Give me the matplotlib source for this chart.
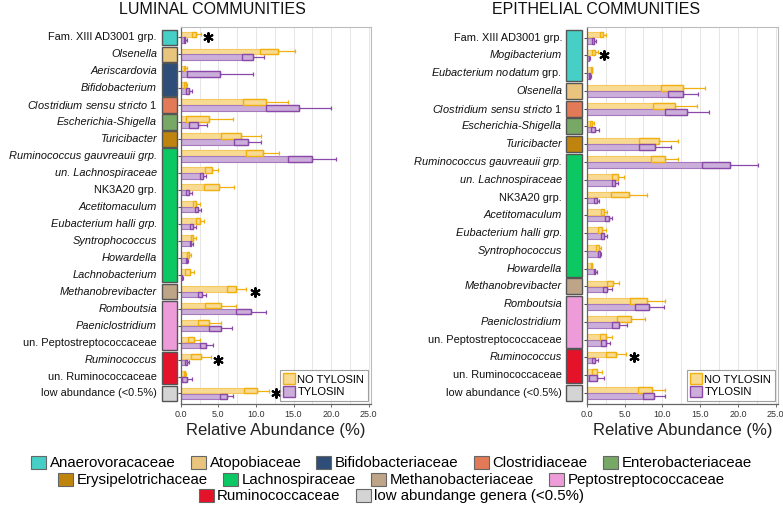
import matplotlib
matplotlib.use("Agg")
import matplotlib.pyplot as plt
from matplotlib.patches import Rectangle, Patch
import matplotlib.transforms as mtransforms
import numpy as np

plt.rcParams['font.family'] = ['Liberation Sans', 'DejaVu Sans']
plt.rcParams['mathtext.fontset'] = 'custom'
plt.rcParams['mathtext.rm'] = 'Liberation Sans'
plt.rcParams['mathtext.it'] = 'Liberation Sans:italic'

# ---------------- data ----------------
families = ["Anaerovoracaceae", "Atopobiaceae", "Bifidobacteriaceae", "Clostridiaceae",
            "Enterobacteriaceae", "Erysipelotrichaceae", "Lachnospiraceae",
            "Methanobacteriaceae", "Peptostreptococcaceae", "Ruminococcaceae",
            "low abundange genera (<0.5%)"]
family_colors = ["#46CFC6", "#E8C47C", "#2E4D78", "#E27A58", "#78A866", "#BE840E",
                 "#0CC862", "#BEA588", "#EE9BDA", "#E5132A", "#D4D4D4"]

lum_labels = ["Fam. XIII AD3001 grp.", "Olsenella", "Aeriscardovia", "Bifidobacterium",
              r"$\mathit{Clostridium\ sensu\ stricto}$ 1", "Escherichia-Shigella", "Turicibacter",
              "Ruminococcus gauvreauii grp.", "un. Lachnospiraceae", "NK3A20 grp.",
              "Acetitomaculum", "Eubacterium halli grp.", "Syntrophococcus", "Howardella",
              "Lachnobacterium", "Methanobrevibacter", "Romboutsia", "Paeniclostridium",
              "un. Peptostreptococcaceae", "Ruminococcus", "un. Ruminococcaceae",
              "low abundance (<0.5%)"]
lum_italic = [False, True, True, True, False, True, True, True, True, False, True, True, True,
              True, True, True, True, True, False, True, False, False]
lum_family = [0, 1, 2, 2, 3, 4, 5, 6, 6, 6, 6, 6, 6, 6, 6, 7, 8, 8, 8, 9, 9, 10]
lum_no = [2.1, 12.9, 0.6, 0.7, 11.3, 3.8, 8.0, 10.9, 4.1, 5.1, 2.1, 2.6, 1.7, 1.1, 1.2,
          7.4, 5.3, 3.8, 1.8, 2.7, 0.6, 10.1]
lum_no_err = [0.6, 2.3, 0.2, 0.2, 3.0, 3.1, 2.7, 2.2, 0.9, 2.0, 0.4, 0.5, 0.3, 0.25, 0.6,
              1.3, 2.1, 1.5, 0.8, 1.3, 0.15, 1.7]
lum_ty = [0.6, 9.6, 5.2, 1.1, 15.7, 2.3, 8.9, 17.4, 2.9, 1.1, 2.3, 1.7, 1.4, 0.8, 0.2,
          2.8, 9.3, 5.3, 3.4, 0.8, 0.8, 6.1]
lum_ty_err = [0.2, 1.5, 4.4, 0.4, 4.3, 1.2, 1.8, 3.2, 0.4, 0.35, 0.4, 0.4, 0.2, 0.15, 0.1,
              0.5, 2.0, 1.5, 0.9, 0.25, 0.65, 0.9]
lum_star_rows = [0, 15, 19, 21]
lum_star_x = [3.6, 9.9, 5.0, 12.7]

epi_labels = ["Fam. XIII AD3001 grp.", "Mogibacterium", r"$\mathit{Eubacterium\ nodatum}$ grp.",
              "Olsenella", r"$\mathit{Clostridium\ sensu\ stricto}$ 1", "Escherichia-Shigella",
              "Turicibacter", "Ruminococcus gauvreauii grp.", "un. Lachnospiraceae",
              "NK3A20 grp.", "Acetitomaculum", "Eubacterium halli grp.", "Syntrophococcus",
              "Howardella", "Methanobrevibacter", "Romboutsia", "Paeniclostridium",
              "un. Peptostreptococcaceae", "Ruminococcus", "un. Ruminococcaceae",
              "low abundance (<0.5%)"]
epi_italic = [False, True, False, True, False, True, True, True, True, False, True, True, True,
              True, True, True, True, False, True, False, False]
epi_family = [0, 0, 0, 1, 3, 4, 5, 6, 6, 6, 6, 6, 6, 6, 7, 8, 8, 8, 9, 9, 10]
epi_no = [2.2, 1.1, 0.65, 12.7, 11.7, 0.75, 9.5, 10.3, 4.1, 5.6, 2.3, 2.0, 1.6, 0.65,
          3.5, 8.0, 5.9, 2.6, 3.9, 1.4, 8.6]
epi_no_err = [0.4, 0.35, 0.1, 2.9, 2.9, 0.25, 2.6, 1.8, 0.8, 2.35, 0.4, 0.5, 0.35, 0.1,
              0.8, 2.3, 1.85, 0.8, 1.3, 0.65, 1.75]
epi_ty = [1.0, 0.35, 0.45, 12.7, 13.3, 1.1, 9.0, 19.0, 3.7, 1.3, 2.9, 2.3, 1.7, 1.1,
          2.7, 8.3, 4.3, 2.5, 1.1, 1.3, 8.9]
epi_ty_err = [0.25, 0.1, 0.1, 2.0, 2.9, 0.5, 2.1, 3.7, 0.4, 0.3, 0.45, 0.45, 0.25, 0.2,
              0.6, 1.9, 1.0, 0.6, 0.4, 1.0, 1.45]
epi_star_rows = [1, 18]
epi_star_x = [2.3, 6.2]

treatments = ["NO TYLOSIN", "TYLOSIN"]
x_ticks = [0, 5, 10, 15, 20, 25]

# ---------------- style ----------------
Y_FILL, Y_EDGE, Y_DARK = "#F8DA92", "#F5C860", "#F0B010"
P_FILL, P_EDGE, P_DARK = "#CBAED9", "#A679BF", "#8A48A8"

W, H = 783, 505
fig = plt.figure(figsize=(W / 100, H / 100), dpi=100)


def ax_rect(x0, x1, y0, y1):
    return [x0 / W, 1 - y1 / H, (x1 - x0) / W, (y1 - y0) / H]


def draw_panel(ax, labels, italic, fam, no, no_err, ty, ty_err, star_rows, star_x,
               box_x0, box_x1, label_x):
    n = len(labels)
    y = np.arange(n)
    off, bh = 0.17, 0.32
    for vals, errs, fill, edge, dark, sgn in [(no, no_err, Y_FILL, Y_EDGE, Y_DARK, -1),
                                             (ty, ty_err, P_FILL, P_EDGE, P_DARK, 1)]:
        vals = np.array(vals); errs = np.array(errs)
        yy = y + sgn * off
        ax.barh(yy, vals, height=bh, color=fill, edgecolor=edge, linewidth=0.8, zorder=2)
        ax.barh(yy, errs, left=vals - errs, height=bh, color=fill, edgecolor=dark,
                linewidth=1.0, zorder=3)
        ax.errorbar(vals, yy, xerr=[np.zeros(n), errs], fmt='none', ecolor=dark,
                    elinewidth=0.9, capsize=1.5, capthick=0.9, zorder=3)
    ax.scatter(star_x, star_rows, marker=(6, 2, 0), s=40, color='black', linewidths=1.5,
               zorder=4)
    ax.set_ylim(n - 1 + 0.62, -0.6)
    ax.set_xlim(0, 25.3)
    ax.set_xticks(x_ticks)
    ax.set_xticklabels([f"{v:.1f}" for v in x_ticks], fontsize=6.5, color="#333333")
    ax.set_xticks(np.arange(2.5, 25, 2.5), minor=True)
    ax.grid(axis='x', which='both', color="#E6E6E6", linewidth=0.7, zorder=0)
    ax.set_axisbelow(True)
    ax.set_yticks(y)
    ax.set_yticklabels([])
    ax.tick_params(axis='y', length=2.5, width=0.8, color="#555555", pad=1)
    ax.tick_params(axis='x', which='major', length=2, width=0.6, pad=2, color="#555555")
    ax.tick_params(axis='x', which='minor', length=0)
    for s in ['top', 'right']:
        ax.spines[s].set_color("#BBBBBB")
        ax.spines[s].set_linewidth(0.8)
    for s in ['left', 'bottom']:
        ax.spines[s].set_color("#666666")
        ax.spines[s].set_linewidth(0.9)
    ax.set_xlabel("Relative Abundance (%)", fontsize=12, labelpad=3, color="#222222")

    trans = mtransforms.blended_transform_factory(ax.transAxes, ax.transData)
    for i, (lab, it) in enumerate(zip(labels, italic)):
        ax.text(label_x, i, lab, transform=trans, ha='right', va='center', fontsize=7.9,
                style='italic' if it else 'normal', color="#111111", clip_on=False)
    # family color boxes
    start = 0
    for i in range(1, n + 1):
        if i == n or fam[i] != fam[start]:
            r = Rectangle((box_x0, start - 0.45), box_x1 - box_x0, (i - 1 - start) + 0.9,
                          transform=trans, facecolor=family_colors[fam[start]],
                          edgecolor="#555555", linewidth=1.0, clip_on=False)
            ax.add_patch(r)
            start = i
    handles = [Patch(facecolor=Y_FILL, edgecolor=Y_DARK, linewidth=1.0),
               Patch(facecolor=P_FILL, edgecolor=P_DARK, linewidth=1.0)]
    leg = ax.legend(handles, treatments, loc='lower right', fontsize=8, frameon=True,
                    fancybox=False, edgecolor="#888888", handlelength=1.1,
                    handleheight=1.1, handletextpad=0.2, borderpad=0.3, labelspacing=0.15,
                    borderaxespad=0.3)
    leg.get_frame().set_linewidth(0.8)


axL = fig.add_axes(ax_rect(180.7, 371, 27, 404))
draw_panel(axL, lum_labels, lum_italic, lum_family, lum_no, lum_no_err, lum_ty, lum_ty_err,
           lum_star_rows, lum_star_x, (162 - 180.7) / 190.3, (177 - 180.7) / 190.3,
           (157 - 180.7) / 190.3)
axR = fig.add_axes(ax_rect(586.7, 778, 27, 404))
draw_panel(axR, epi_labels, epi_italic, epi_family, epi_no, epi_no_err, epi_ty, epi_ty_err,
           epi_star_rows, epi_star_x, (566 - 586.7) / 191.3, (582 - 586.7) / 191.3,
           (562 - 586.7) / 191.3)

fig.text(212 / W, 1 - 10 / H, "LUMINAL COMMUNITIES", ha='center', va='center',
         fontsize=11.5, color="#111111")
fig.text(596 / W, 1 - 10 / H, "EPITHELIAL COMMUNITIES", ha='center', va='center',
         fontsize=11.5, color="#111111")

# family legend (three centred rows)
rows = [[0, 1, 2, 3, 4], [5, 6, 7, 8], [9, 10]]
row_y = [463, 480, 496]
for r, yy in zip(rows, row_y):
    hs = [Patch(facecolor=family_colors[k], edgecolor="#666666", linewidth=0.8) for k in r]
    fig.legend(hs, [families[k] for k in r], loc='center', bbox_to_anchor=(0.5, 1 - yy / H),
               ncol=len(r), frameon=False, fontsize=10.8,
               handlelength=1.0, handleheight=1.0, handletextpad=0.25, columnspacing=1.0,
               borderpad=0, borderaxespad=0)

fig.savefig("out.png", dpi=100)
